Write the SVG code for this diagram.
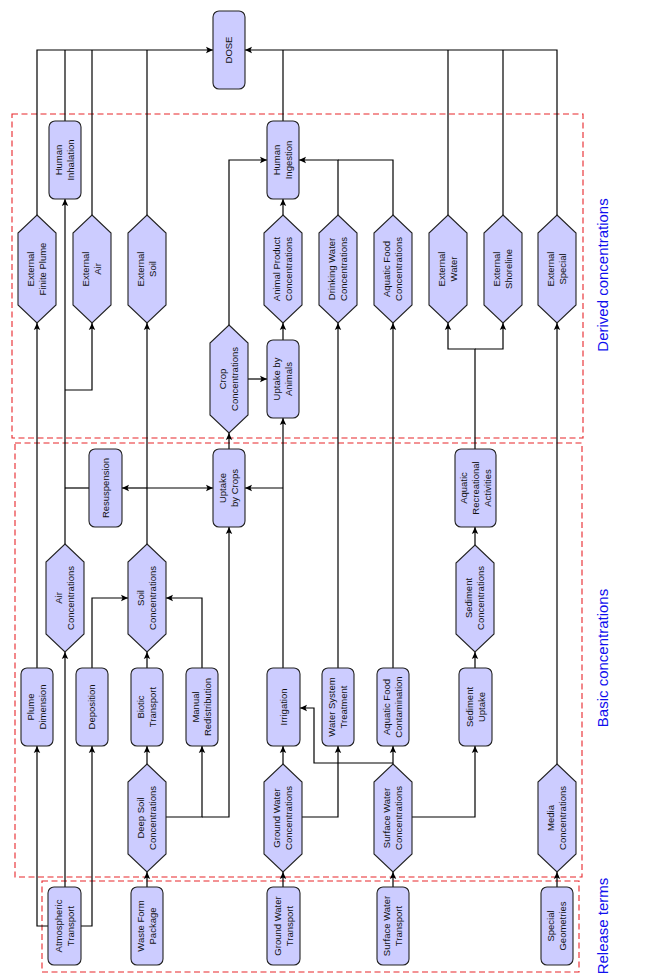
<svg xmlns="http://www.w3.org/2000/svg" width="662" height="980" viewBox="0 0 662 980">
<style>
.node{fill:#ccccff;stroke:#222;stroke-width:1.1}
.lbl{font-family:"Liberation Sans",Arial,sans-serif;font-size:9.5px;text-anchor:middle;fill:#111}
.conn path{fill:none;stroke:#000;stroke-width:1.2}
.conn .a{marker-end:url(#ah)}
.zone{fill:none;stroke:#e8262a;stroke-width:1.1;stroke-dasharray:6 3.5}
.zl{font-family:"Liberation Sans",Arial,sans-serif;font-size:15px;text-anchor:middle;fill:#1010ee}
</style>
<defs>
<marker id="ah" viewBox="-8 -4 9 8" refX="0" refY="0" markerWidth="9" markerHeight="8" markerUnits="userSpaceOnUse" orient="auto">
<path d="M-7,-3.2 L0,0 L-7,3.2 L-5.5,0 z" fill="#000"/>
</marker>
</defs>
<rect width="662" height="980" fill="#fff"/>

<g id="zones">
<rect class="zone" x="12" y="114" width="571" height="324"/>
<rect class="zone" x="15" y="443" width="567" height="434"/>
<rect class="zone" x="42" y="881" width="537" height="91"/>
<text class="zl" transform="translate(608,275) rotate(-90)">Derived concentrations</text>
<text class="zl" transform="translate(608,658) rotate(-90)">Basic concentrations</text>
<text class="zl" transform="translate(608,926) rotate(-90)">Release terms</text>
</g>

<g class="conn" id="connectors">
<path class="a" d="M37,215 V50 H213"/>
<path d="M65,121 V50"/>
<path d="M92,215 V50"/>
<path d="M147,215 V50"/>
<path class="a" d="M557,215 V50 H245"/>
<path d="M503,215 V50"/>
<path d="M448,215 V50"/>
<path d="M283,121 V50"/>
<path class="a" d="M229,325 V160 H267"/>
<path class="a" d="M338,215 V160 H299"/>
<path d="M393,215 V160 H338"/>
<path class="a" d="M283,215 V199"/>
<path class="a" d="M283,340 V323"/>
<path class="a" d="M248,379 H267"/>
<path class="a" d="M229,449 V433"/>
<path class="a" d="M283,668 V418"/>
<path class="a" d="M283,488 H245"/>
<path class="a" d="M147,544 V323"/>
<path class="a" d="M147,488 H122"/>
<path class="a" d="M147,488 H213"/>
<path d="M89,488 H65"/>
<path class="a" d="M65,544 V199"/>
<path class="a" d="M65,390 H92 V323"/>
<path class="a" d="M37,668 V323"/>
<path class="a" d="M48,926 H37 V746"/>
<path class="a" d="M81,926 H92 V746"/>
<path class="a" d="M65,887 V652"/>
<path class="a" d="M92,668 V598 H128"/>
<path class="a" d="M202,668 V598 H166"/>
<path class="a" d="M147,668 V652"/>
<path class="a" d="M147,764 V746"/>
<path class="a" d="M147,887 V872"/>
<path class="a" d="M166,817 H202 V746"/>
<path class="a" d="M202,817 H229 V527"/>
<path class="a" d="M283,887 V872"/>
<path class="a" d="M283,764 V746"/>
<path class="a" d="M302,817 H338 V746"/>
<path class="a" d="M338,668 V323"/>
<path class="a" d="M393,887 V872"/>
<path class="a" d="M393,764 V746"/>
<path class="a" d="M393,763 H314 V708 H300"/>
<path class="a" d="M412,817 H475 V746"/>
<path class="a" d="M393,668 V323"/>
<path class="a" d="M475,668 V652"/>
<path class="a" d="M475,545 V527"/>
<path class="a" d="M475,449 V349 H448 V323"/>
<path class="a" d="M475,349 H503 V323"/>
<path class="a" d="M557,887 V872"/>
<path class="a" d="M557,764 V323"/>
</g>

<g id="dose"><rect class="node" x="213" y="11" width="32" height="78" rx="6"/><text class="lbl" transform="translate(229,50) rotate(-90)" y="3.3">DOSE</text></g>
<g id="human-inhalation"><rect class="node" x="49" y="121" width="32" height="78" rx="6"/><text class="lbl" transform="translate(65,160) rotate(-90)"><tspan x="0" y="-2.7">Human</tspan><tspan x="0" y="9.3">Inhalation</tspan></text></g>
<g id="human-ingestion"><rect class="node" x="267" y="121" width="32" height="78" rx="6"/><text class="lbl" transform="translate(283,160) rotate(-90)"><tspan x="0" y="-2.7">Human</tspan><tspan x="0" y="9.3">Ingestion</tspan></text></g>

<g id="ext-finite-plume"><polygon class="node" points="37,215 56,233 56,305 37,323 18,305 18,233"/><text class="lbl" transform="translate(37,269) rotate(-90)"><tspan x="0" y="-2.7">External</tspan><tspan x="0" y="9.3">Finite Plume</tspan></text></g>
<g id="ext-air"><polygon class="node" points="92,215 111,233 111,305 92,323 73,305 73,233"/><text class="lbl" transform="translate(92,269) rotate(-90)"><tspan x="0" y="-2.7">External</tspan><tspan x="0" y="9.3">Air</tspan></text></g>
<g id="ext-soil"><polygon class="node" points="147,215 166,233 166,305 147,323 128,305 128,233"/><text class="lbl" transform="translate(147,269) rotate(-90)"><tspan x="0" y="-2.7">External</tspan><tspan x="0" y="9.3">Soil</tspan></text></g>
<g id="animal-product"><polygon class="node" points="283,215 302,233 302,305 283,323 264,305 264,233"/><text class="lbl" transform="translate(283,269) rotate(-90)"><tspan x="0" y="-2.7">Animal Product</tspan><tspan x="0" y="9.3">Concentrations</tspan></text></g>
<g id="drinking-water"><polygon class="node" points="338,215 357,233 357,305 338,323 319,305 319,233"/><text class="lbl" transform="translate(338,269) rotate(-90)"><tspan x="0" y="-2.7">Drinking Water</tspan><tspan x="0" y="9.3">Concentrations</tspan></text></g>
<g id="aquatic-food-conc"><polygon class="node" points="393,215 412,233 412,305 393,323 374,305 374,233"/><text class="lbl" transform="translate(393,269) rotate(-90)"><tspan x="0" y="-2.7">Aquatic Food</tspan><tspan x="0" y="9.3">Concentrations</tspan></text></g>
<g id="ext-water"><polygon class="node" points="448,215 467,233 467,305 448,323 429,305 429,233"/><text class="lbl" transform="translate(448,269) rotate(-90)"><tspan x="0" y="-2.7">External</tspan><tspan x="0" y="9.3">Water</tspan></text></g>
<g id="ext-shoreline"><polygon class="node" points="503,215 522,233 522,305 503,323 484,305 484,233"/><text class="lbl" transform="translate(503,269) rotate(-90)"><tspan x="0" y="-2.7">External</tspan><tspan x="0" y="9.3">Shoreline</tspan></text></g>
<g id="ext-special"><polygon class="node" points="557,215 576,233 576,305 557,323 538,305 538,233"/><text class="lbl" transform="translate(557,269) rotate(-90)"><tspan x="0" y="-2.7">External</tspan><tspan x="0" y="9.3">Special</tspan></text></g>

<g id="crop-conc"><polygon class="node" points="229,325 248,343 248,415 229,433 210,415 210,343"/><text class="lbl" transform="translate(229,379) rotate(-90)"><tspan x="0" y="-2.7">Crop</tspan><tspan x="0" y="9.3">Concentrations</tspan></text></g>
<g id="uptake-animals"><rect class="node" x="267" y="340" width="32" height="78" rx="6"/><text class="lbl" transform="translate(283,379) rotate(-90)"><tspan x="0" y="-2.7">Uptake by</tspan><tspan x="0" y="9.3">Animals</tspan></text></g>

<g id="resuspension"><rect class="node" x="89" y="449" width="33" height="78" rx="6"/><text class="lbl" transform="translate(105.5,488) rotate(-90)" y="3.3">Resuspension</text></g>
<g id="uptake-crops"><rect class="node" x="213" y="449" width="32" height="78" rx="6"/><text class="lbl" transform="translate(229,488) rotate(-90)"><tspan x="0" y="-2.7">Uptake</tspan><tspan x="0" y="9.3">by Crops</tspan></text></g>
<g id="aquatic-rec"><rect class="node" x="455" y="449" width="41" height="78" rx="6"/><text class="lbl" transform="translate(475.5,488) rotate(-90)"><tspan x="0" y="-8.7">Aquatic</tspan><tspan x="0" y="3.3">Recreational</tspan><tspan x="0" y="15.3">Activities</tspan></text></g>

<g id="air-conc"><polygon class="node" points="65,544 84,562 84,634 65,652 46,634 46,562"/><text class="lbl" transform="translate(65,598) rotate(-90)"><tspan x="0" y="-2.7">Air</tspan><tspan x="0" y="9.3">Concentrations</tspan></text></g>
<g id="soil-conc"><polygon class="node" points="147,544 166,562 166,634 147,652 128,634 128,562"/><text class="lbl" transform="translate(147,598) rotate(-90)"><tspan x="0" y="-2.7">Soil</tspan><tspan x="0" y="9.3">Concentrations</tspan></text></g>
<g id="sediment-conc"><polygon class="node" points="475,545 494,563 494,634 475,652 456,634 456,563"/><text class="lbl" transform="translate(475,598) rotate(-90)"><tspan x="0" y="-2.7">Sediment</tspan><tspan x="0" y="9.3">Concentrations</tspan></text></g>

<g id="plume-dimension"><rect class="node" x="21" y="668" width="32" height="78" rx="6"/><text class="lbl" transform="translate(37,707) rotate(-90)"><tspan x="0" y="-2.7">Plume</tspan><tspan x="0" y="9.3">Dimension</tspan></text></g>
<g id="deposition"><rect class="node" x="76" y="668" width="32" height="78" rx="6"/><text class="lbl" transform="translate(92,707) rotate(-90)" y="3.3">Deposition</text></g>
<g id="biotic-transport"><rect class="node" x="131" y="668" width="32" height="78" rx="6"/><text class="lbl" transform="translate(147,707) rotate(-90)"><tspan x="0" y="-2.7">Biotic</tspan><tspan x="0" y="9.3">Transport</tspan></text></g>
<g id="manual-redistribution"><rect class="node" x="186" y="668" width="32" height="78" rx="6"/><text class="lbl" transform="translate(202,707) rotate(-90)"><tspan x="0" y="-2.7">Manual</tspan><tspan x="0" y="9.3">Redistribution</tspan></text></g>
<g id="irrigation"><rect class="node" x="267" y="668" width="33" height="78" rx="6"/><text class="lbl" transform="translate(283.5,707) rotate(-90)" y="3.3">Irrigation</text></g>
<g id="water-system-treatment"><rect class="node" x="322" y="668" width="32" height="78" rx="6"/><text class="lbl" transform="translate(338,707) rotate(-90)"><tspan x="0" y="-2.7">Water System</tspan><tspan x="0" y="9.3">Treatment</tspan></text></g>
<g id="aquatic-food-contam"><rect class="node" x="377" y="668" width="32" height="78" rx="6"/><text class="lbl" transform="translate(393,707) rotate(-90)"><tspan x="0" y="-2.7">Aquatic Food</tspan><tspan x="0" y="9.3">Contamination</tspan></text></g>
<g id="sediment-uptake"><rect class="node" x="459" y="668" width="33" height="78" rx="6"/><text class="lbl" transform="translate(475.5,707) rotate(-90)"><tspan x="0" y="-2.7">Sediment</tspan><tspan x="0" y="9.3">Uptake</tspan></text></g>

<g id="deep-soil"><polygon class="node" points="147,764 166,782 166,854 147,872 128,854 128,782"/><text class="lbl" transform="translate(147,818) rotate(-90)"><tspan x="0" y="-2.7">Deep Soil</tspan><tspan x="0" y="9.3">Concentrations</tspan></text></g>
<g id="ground-water-conc"><polygon class="node" points="283,764 302,782 302,854 283,872 264,854 264,782"/><text class="lbl" transform="translate(283,818) rotate(-90)"><tspan x="0" y="-2.7">Ground Water</tspan><tspan x="0" y="9.3">Concentrations</tspan></text></g>
<g id="surface-water-conc"><polygon class="node" points="393,764 412,782 412,854 393,872 374,854 374,782"/><text class="lbl" transform="translate(393,818) rotate(-90)"><tspan x="0" y="-2.7">Surface Water</tspan><tspan x="0" y="9.3">Concentrations</tspan></text></g>
<g id="media-conc"><polygon class="node" points="557,764 576,782 576,854 557,872 538,854 538,782"/><text class="lbl" transform="translate(557,818) rotate(-90)"><tspan x="0" y="-2.7">Media</tspan><tspan x="0" y="9.3">Concentrations</tspan></text></g>

<g id="atmospheric-transport"><rect class="node" x="48" y="887" width="33" height="78" rx="6"/><text class="lbl" transform="translate(64.5,926) rotate(-90)"><tspan x="0" y="-2.7">Atmospheric</tspan><tspan x="0" y="9.3">Transport</tspan></text></g>
<g id="waste-form-package"><rect class="node" x="131" y="887" width="32" height="78" rx="6"/><text class="lbl" transform="translate(147,926) rotate(-90)"><tspan x="0" y="-2.7">Waste Form</tspan><tspan x="0" y="9.3">Package</tspan></text></g>
<g id="ground-water-transport"><rect class="node" x="267" y="887" width="33" height="78" rx="6"/><text class="lbl" transform="translate(283.5,926) rotate(-90)"><tspan x="0" y="-2.7">Ground Water</tspan><tspan x="0" y="9.3">Transport</tspan></text></g>
<g id="surface-water-transport"><rect class="node" x="377" y="887" width="32" height="78" rx="6"/><text class="lbl" transform="translate(393,926) rotate(-90)"><tspan x="0" y="-2.7">Surface Water</tspan><tspan x="0" y="9.3">Transport</tspan></text></g>
<g id="special-geometries"><rect class="node" x="541" y="887" width="32" height="78" rx="6"/><text class="lbl" transform="translate(557,926) rotate(-90)"><tspan x="0" y="-2.7">Special</tspan><tspan x="0" y="9.3">Geometries</tspan></text></g>
</svg>
